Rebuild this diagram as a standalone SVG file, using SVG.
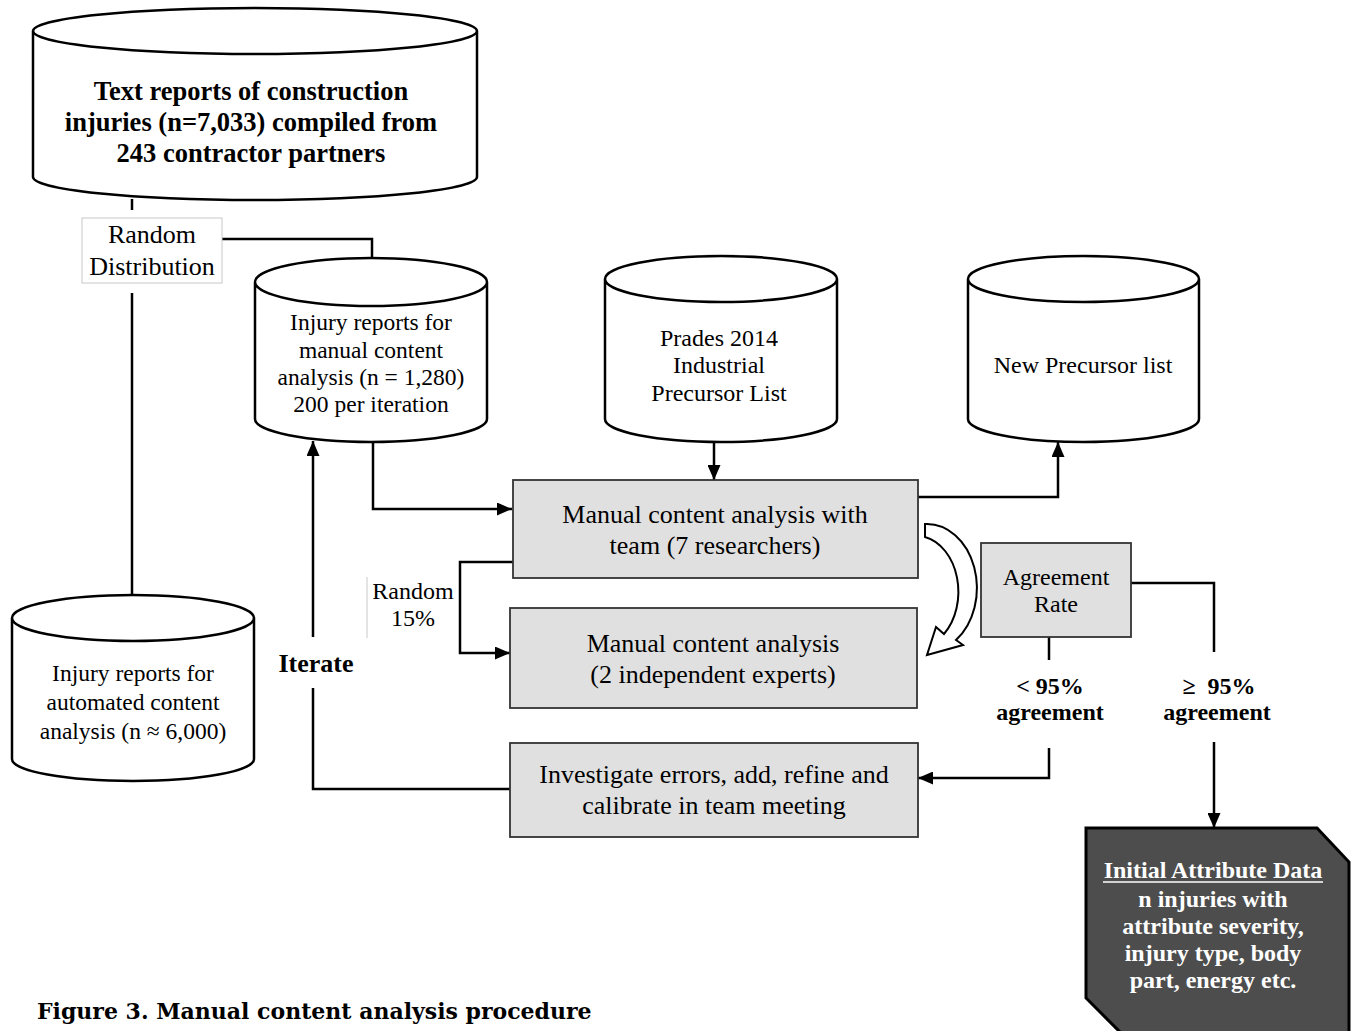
<svg xmlns="http://www.w3.org/2000/svg" width="1353" height="1031" viewBox="0 0 1353 1031">
<defs>
<style>
.cyl{fill:#fff;stroke:#000;stroke-width:2.5}
.box{fill:#e0e0e0;stroke:#333;stroke-width:1.8}
.ln{fill:none;stroke:#000;stroke-width:2.5}
.t{font-family:"Liberation Serif","Times New Roman",serif;fill:#000;text-anchor:middle}
.b{font-weight:bold}
</style>
<marker id="ah" viewBox="0 0 15 13" refX="15" refY="6.5" markerWidth="15" markerHeight="13" markerUnits="userSpaceOnUse" orient="auto">
<path d="M0,0 L15,6.5 L0,13 Z" fill="#000"/>
</marker>
</defs>
<rect width="1353" height="1031" fill="#fff"/>

<g id="connectors">
<path class="ln" d="M132,199 V210"/>
<path class="ln" d="M132,293 V596"/>
<path class="ln" d="M203,239 H372 V259"/>
<path class="ln" d="M373,442 V509 H512" marker-end="url(#ah)"/>
<path class="ln" d="M714,442 V480" marker-end="url(#ah)"/>
<path class="ln" d="M918,497 H1058 V442" marker-end="url(#ah)"/>
<path class="ln" d="M513,562 H460 V653 H510" marker-end="url(#ah)"/>
<path class="ln" d="M512,789 H313 V688"/>
<path class="ln" d="M313,637 V441" marker-end="url(#ah)"/>
<path class="ln" d="M1049,637 V660"/>
<path class="ln" d="M1049,748 V778 H918" marker-end="url(#ah)"/>
<path class="ln" d="M1131,583 H1214 V652"/>
<path class="ln" d="M1214,742 V828" marker-end="url(#ah)"/>
<path d="M925,524 A50,64 0 0 1 956,640 L963,645 L927,655 L936,627 L944,634 A42,56 0 0 0 925,537 Z" fill="#fff" stroke="#000" stroke-width="2"/>
</g>

<g id="source">
<path class="cyl" d="M33,31 A222,23 0 0 1 477,31 L477,177 A222,23 0 0 1 33,177 Z M33,31 A222,23 0 0 0 477,31"/>
<text class="t b" font-size="26.5"><tspan x="251" y="100">Text reports of construction</tspan><tspan x="251" y="131">injuries (n=7,033) compiled from</tspan><tspan x="251" y="162">243 contractor partners</tspan></text>
</g>

<g id="random-distribution">
<rect x="82" y="218" width="140" height="65" fill="#fff" stroke="#c8c8c8" stroke-width="1"/>
<text class="t" font-size="26"><tspan x="152" y="243">Random</tspan><tspan x="152" y="275">Distribution</tspan></text>
</g>

<g id="manual-reports">
<path class="cyl" d="M255,282 A116,24 0 0 1 487,282 L487,419 A116,23 0 0 1 255,419 Z M255,282 A116,24 0 0 0 487,282"/>
<text class="t" font-size="23.5"><tspan x="371" y="330">Injury reports for</tspan><tspan x="371" y="358">manual content</tspan><tspan x="371" y="385">analysis (n = 1,280)</tspan><tspan x="371" y="412">200 per iteration</tspan></text>
</g>

<g id="automated-reports">
<path class="cyl" d="M12,618 A121,23 0 0 1 254,618 L254,759 A121,22 0 0 1 12,759 Z M12,618 A121,23 0 0 0 254,618"/>
<text class="t" font-size="23.5"><tspan x="133" y="681">Injury reports for</tspan><tspan x="133" y="710">automated content</tspan><tspan x="133" y="739">analysis (n ≈ 6,000)</tspan></text>
</g>

<g id="prades">
<path class="cyl" d="M605,279 A116,23 0 0 1 837,279 L837,419 A116,23 0 0 1 605,419 Z M605,279 A116,23 0 0 0 837,279"/>
<text class="t" font-size="24"><tspan x="719" y="346">Prades 2014</tspan><tspan x="719" y="373">Industrial</tspan><tspan x="719" y="401">Precursor List</tspan></text>
</g>

<g id="new-precursor">
<path class="cyl" d="M968,279 A115.5,23 0 0 1 1199,279 L1199,419 A115.5,23 0 0 1 968,419 Z M968,279 A115.5,23 0 0 0 1199,279"/>
<text class="t" font-size="24" x="1083" y="373">New Precursor list</text>
</g>

<g id="team-analysis">
<rect class="box" x="513" y="480" width="405" height="98"/>
<text class="t" font-size="26"><tspan x="715" y="523">Manual content analysis with</tspan><tspan x="715" y="554">team (7 researchers)</tspan></text>
</g>

<g id="random-15">
<line x1="367" y1="577" x2="367" y2="638" stroke="#c8c8c8" stroke-width="1"/>
<text class="t" font-size="24"><tspan x="413" y="599">Random</tspan><tspan x="413" y="626">15%</tspan></text>
</g>

<g id="expert-analysis">
<rect class="box" x="510" y="608" width="407" height="100"/>
<text class="t" font-size="26"><tspan x="713" y="652">Manual content analysis</tspan><tspan x="713" y="683">(2 independent experts)</tspan></text>
</g>

<g id="investigate">
<rect class="box" x="510" y="743" width="408" height="94"/>
<text class="t" font-size="26"><tspan x="714" y="783">Investigate errors, add, refine and</tspan><tspan x="714" y="814">calibrate in team meeting</tspan></text>
</g>

<g id="iterate">
<text class="t b" font-size="26" x="316" y="672">Iterate</text>
</g>

<g id="agreement-rate">
<rect class="box" x="981" y="543" width="150" height="94"/>
<text class="t" font-size="24"><tspan x="1056" y="585">Agreement</tspan><tspan x="1056" y="612">Rate</tspan></text>
</g>

<g id="label-below">
<text class="t b" font-size="24"><tspan x="1050" y="694">&lt; 95%</tspan><tspan x="1050" y="720">agreement</tspan></text>
</g>

<g id="label-above">
<text class="t b" font-size="24"><tspan x="1219" y="694">≥&#160;&#160;95%</tspan><tspan x="1217" y="720">agreement</tspan></text>
</g>

<g id="initial-attribute-data">
<path d="M1086,828 L1317,828 L1349,862 L1349,1040 L1128,1040 L1086,998 Z" fill="#4d4d4d" stroke="#000" stroke-width="3"/>
<text class="t b" font-size="24" style="fill:#fff"><tspan x="1213" y="878">Initial Attribute Data</tspan><tspan x="1213" y="907">n injuries with</tspan><tspan x="1213" y="934">attribute severity,</tspan><tspan x="1213" y="961">injury type, body</tspan><tspan x="1213" y="988">part, energy etc.</tspan></text>
<line x1="1103" y1="882" x2="1323" y2="882" stroke="#fff" stroke-width="1.5"/>
</g>

<g id="caption">
<text font-family="'DejaVu Serif',serif" font-weight="bold" font-size="22" x="37" y="1019" fill="#000">Figure 3. Manual content analysis procedure</text>
</g>
</svg>
